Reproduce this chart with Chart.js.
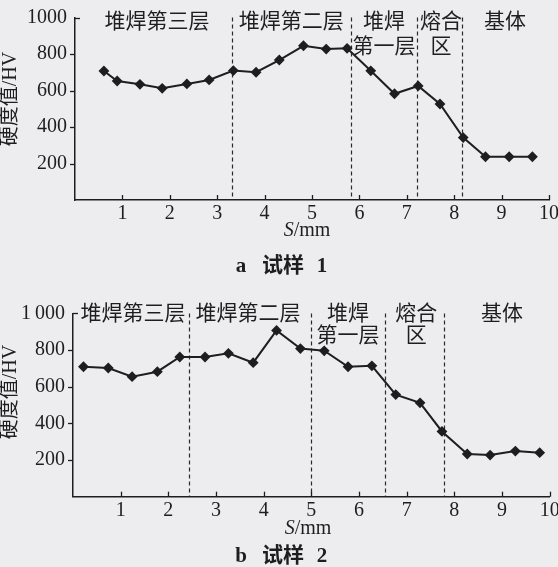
<!DOCTYPE html>
<html>
<head>
<meta charset="utf-8">
<script src="https://cdn.jsdelivr.net/npm/chart.js@4/dist/chart.umd.min.js"></script>
<style>
  html, body { margin: 0; padding: 0; background: #ededf0; }
  #wrap { width: 558px; height: 567px; position: relative; }
  canvas { display: block; }
</style>
</head>
<body>
<div id="wrap">
  <canvas id="chartA" width="558" height="283"></canvas>
  <canvas id="chartB" width="558" height="284"></canvas>
</div>
<script>
// Sample 1 (试样 1): distance S (mm) and hardness (HV)
const sA = [0.61, 0.89, 1.37, 1.84, 2.36, 2.83, 3.34, 3.82, 4.31, 4.82, 5.30, 5.74, 6.24, 6.74, 7.24, 7.70, 8.19, 8.66, 9.16, 9.65];
const hvA = [707, 652, 634, 612, 636, 658, 709, 700, 767, 845, 827, 831, 708, 582, 625, 526, 342, 237, 237, 237];
const boundsA = [3.32, 5.83, 7.22, 8.17];

// Sample 2 (试样 2)
const sB = [0.22, 0.74, 1.24, 1.77, 2.24, 2.77, 3.26, 3.78, 4.27, 4.77, 5.27, 5.77, 6.27, 6.77, 7.28, 7.74, 8.27, 8.75, 9.28, 9.79];
const hvB = [709, 702, 655, 682, 762, 762, 782, 731, 907, 808, 796, 709, 714, 557, 512, 356, 233, 227, 249, 240];
const boundsB = [2.44, 5.00, 6.54, 7.78];

// zone names (left to right)
const zones = [['堆焊第三层'], ['堆焊第二层'], ['堆焊', '第一层'], ['熔合', '区'], ['基体']];

// axis ticks
const xTicks = [1, 2, 3, 4, 5, 6, 7, 8, 9, 10];
const yTicks = [200, 400, 600, 800, 1000];
const yTickLabelsA = ['200', '400', '600', '800', '1000'];
const yTickLabelsB = ['200', '400', '600', '800', '1\u2009000'];

const INK = '#1e1e1e';
const SERIF = "'Liberation Serif', 'Noto Sans CJK SC'";

const overlay = {
  id: 'overlay',
  beforeDatasetsDraw(chart, args, o) {
    const { ctx, scales: { x, y } } = chart;
    ctx.save();
    ctx.strokeStyle = '#2a2a2a';
    ctx.lineWidth = 1.2;
    ctx.setLineDash([4, 3]);
    o.bounds.forEach(b => {
      const px = Math.round(x.getPixelForValue(b)) + 0.5;
      ctx.beginPath();
      ctx.moveTo(px, y.getPixelForValue(1000));
      ctx.lineTo(px, y.getPixelForValue(0));
      ctx.stroke();
    });
    ctx.restore();
  },
  afterDraw(chart, args, o) {
    const { ctx, chartArea, scales: { x, y } } = chart;
    ctx.save();
    ctx.strokeStyle = INK;
    ctx.lineWidth = 1.3;
    ctx.setLineDash([]);
    // x ticks point up into the plot
    xTicks.forEach(v => {
      const px = Math.round(x.getPixelForValue(v)) + 0.5;
      ctx.beginPath();
      ctx.moveTo(px, chartArea.bottom);
      ctx.lineTo(px, chartArea.bottom - 5);
      ctx.stroke();
    });
    // y ticks point left, the top one turns right
    yTicks.forEach(v => {
      const py = Math.round(y.getPixelForValue(v)) + 0.5;
      ctx.beginPath();
      if (v === 1000) {
        ctx.moveTo(chartArea.left, py);
        ctx.lineTo(chartArea.left + 5, py);
      } else {
        ctx.moveTo(chartArea.left - 5, py);
        ctx.lineTo(chartArea.left, py);
      }
      ctx.stroke();
    });

    ctx.fillStyle = INK;
    ctx.textAlign = 'center';
    ctx.textBaseline = 'middle';

    // zone names
    ctx.font = '21px ' + SERIF;
    zones.forEach((lines, i) => {
      const px = x.getPixelForValue(o.zoneX[i]);
      lines.forEach((t, j) => ctx.fillText(t, px, y.getPixelForValue(o.rowY[j])));
    });

    // y title
    ctx.save();
    ctx.translate(o.yTitle[0], o.yTitle[1]);
    ctx.rotate(-Math.PI / 2);
    ctx.font = '20px ' + SERIF;
    ctx.fillText('硬度值/HV', 0, 0);
    ctx.restore();

    // x title, italic S
    ctx.textAlign = 'left';
    ctx.font = 'italic 20px ' + SERIF;
    const wS = ctx.measureText('S').width;
    ctx.font = '20px ' + SERIF;
    const wR = ctx.measureText('/mm').width;
    let sx = o.xTitle[0] - (wS + wR) / 2;
    ctx.font = 'italic 20px ' + SERIF;
    ctx.fillText('S', sx, o.xTitle[1]);
    ctx.font = '20px ' + SERIF;
    ctx.fillText('/mm', sx + wS, o.xTitle[1]);

    // caption
    ctx.textAlign = 'center';
    ctx.font = 'bold 21px ' + SERIF;
    ctx.fillText(o.caption[0], 241, o.capY);
    ctx.fillText(o.caption[1], 283, o.capY);
    ctx.fillText(o.caption[2], 322, o.capY);
    ctx.restore();
  }
};

function makeChart(id, s, hv, tickLabels, cfg) {
  return new Chart(document.getElementById(id), {
    type: 'line',
    data: {
      datasets: [{
        data: s.map((v, i) => ({ x: v, y: hv[i] })),
        borderColor: INK,
        backgroundColor: INK,
        borderWidth: 2,
        pointStyle: 'rectRot',
        pointRadius: 4,
        pointHoverRadius: 4,
        tension: 0,
        clip: false
      }]
    },
    options: {
      responsive: false,
      animation: false,
      events: [],
      layout: { padding: { top: cfg.top, right: cfg.right, left: 0, bottom: 0 } },
      plugins: { legend: { display: false }, tooltip: { enabled: false }, overlay: cfg },
      scales: {
        x: {
          type: 'linear', min: 0, max: 10,
          afterBuildTicks: sc => { sc.ticks = xTicks.map(v => ({ value: v })); },
          afterFit: sc => { sc.height = cfg.xh; sc.paddingLeft = 0; sc.paddingRight = 0; },
          grid: { display: false, drawTicks: false },
          border: { display: true, color: INK, width: 1.5 },
          ticks: { color: INK, font: { family: SERIF, size: 20 }, padding: 2, maxRotation: 0, autoSkip: false }
        },
        y: {
          min: 0, max: 1000,
          afterBuildTicks: sc => { sc.ticks = yTicks.map(v => ({ value: v })); },
          afterFit: sc => { sc.width = cfg.yw; sc.paddingTop = 0; sc.paddingBottom = 0; },
          grid: { display: false, drawTicks: false },
          border: { display: true, color: INK, width: 1.5 },
          ticks: {
            color: INK, font: { family: SERIF, size: 20 }, padding: 8,
            callback: v => tickLabels[yTicks.indexOf(v)]
          }
        }
      }
    },
    plugins: [overlay]
  });
}

makeChart('chartA', sA, hvA, yTickLabelsA, {
  top: 17.5, right: 9, xh: 83, yw: 75,
  bounds: boundsA,
  zoneX: [1.73, 4.56, 6.52, 7.72, 9.07],
  rowY: [970, 833],
  yTitle: [11, 99],
  xTitle: [307, 231],
  caption: ['a', '试样', '1'], capY: 267
});

makeChart('chartB', sB, hvB, yTickLabelsB, {
  top: 30.4, right: 8.3, xh: 70.3, yw: 73,
  bounds: boundsB,
  zoneX: [1.26, 3.67, 5.77, 7.2, 9.0],
  rowY: [994, 876],
  yTitle: [11, 109],
  xTitle: [308, 246],
  caption: ['b', '试样', '2'], capY: 274
});
</script>
</body>
</html>
